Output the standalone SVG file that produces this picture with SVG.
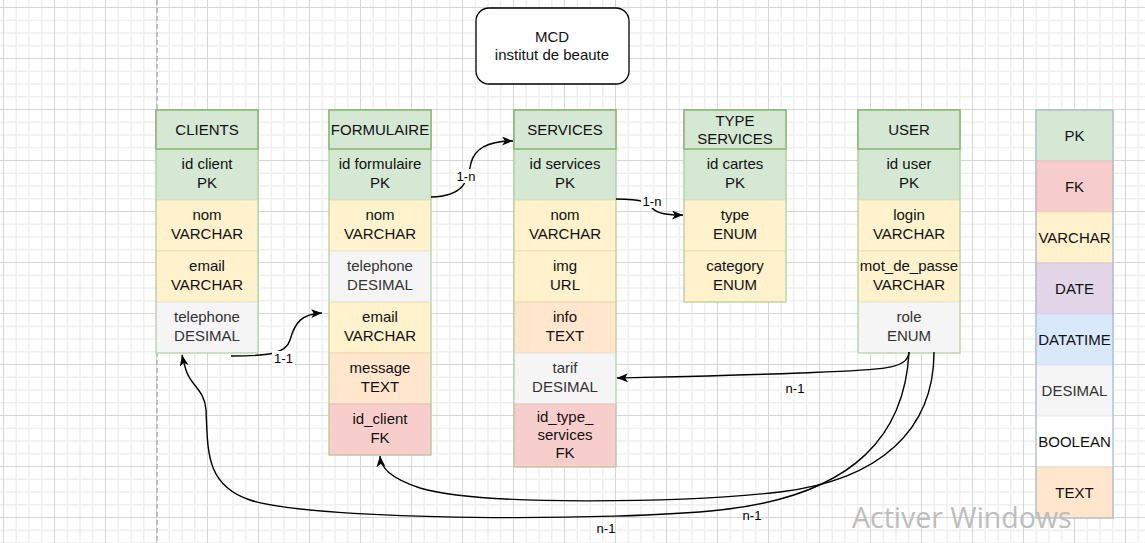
<svg xmlns="http://www.w3.org/2000/svg" width="1145" height="543" viewBox="0 0 1145 543">
<defs>
<pattern id="grid" patternUnits="userSpaceOnUse" x="3" y="7" width="51" height="51">
<path d="M13.25,0V51M26,0V51M38.75,0V51M0,13.25H51M0,26H51M0,38.75H51" stroke="#efefef" stroke-width="1.5" fill="none"/>
<path d="M0.5,0V51M0,0.5H51" stroke="#d6d6d6" stroke-width="1" fill="none"/>
</pattern>
<marker id="arr" markerUnits="userSpaceOnUse" markerWidth="12" markerHeight="10" refX="11" refY="4.5" orient="auto">
<path d="M0,0 L11,4.5 L0,9 L3,4.5 Z" fill="#000"/>
</marker>
</defs>
<style>
text{font-family:"Liberation Sans",Arial,sans-serif;font-size:15px;fill:#111;text-anchor:middle}
.lbl{font-size:13px;fill:#000}
text.g{fill:#333}
.hd{fill:#d5e8d4;stroke:#82b366;stroke-width:1.4}
.pk{fill:#d5e8d4;stroke:#c3ddb6;stroke-width:1}
.vc{fill:#fff2cc;stroke:#ede0b2;stroke-width:1}
.ds{fill:#f5f5f5;stroke:#e6e6e6;stroke-width:1}
.tx{fill:#ffe6cc;stroke:#f0d6ba;stroke-width:1}
.fk{fill:#f8cecc;stroke:#ecbcb9;stroke-width:1}
.pu{fill:#e1d5e7;stroke:#d3c5da;stroke-width:1}
.bl{fill:#dae8fc;stroke:#c9daf2;stroke-width:1}
.wh{fill:#ffffff;stroke:#eeeeee;stroke-width:1}
.out{fill:none;stroke:#a9cf96;stroke-width:1}
.edge{fill:none;stroke:#000;stroke-width:1.4;marker-end:url(#arr)}
.lb{fill:#fff}
</style>
<rect width="1145" height="543" fill="#fff"/>
<rect width="1145" height="543" fill="url(#grid)"/>
<line x1="157" y1="0" x2="157" y2="543" stroke="#b5b5b5" stroke-width="1.5" stroke-dasharray="5 3"/>

<g id="title">
<rect x="476" y="8" width="153" height="76" rx="13" fill="#fff" stroke="#000" stroke-width="1.3"/>
<text x="552" y="42">MCD</text>
<text x="552" y="60">institut de beaute</text>
</g>

<g id="clients">
<rect class="pk" x="156" y="149" width="102" height="51"/>
<rect class="vc" x="156" y="200" width="102" height="51"/>
<rect class="vc" x="156" y="251" width="102" height="51"/>
<rect class="ds" x="156" y="302" width="102" height="51"/>
<rect class="out" x="156" y="110" width="102" height="243"/>
<rect class="hd" x="156" y="110" width="102" height="39"/>
<text x="207" y="135">CLIENTS</text>
<text x="207" y="168.5">id client</text><text x="207" y="187.5">PK</text>
<text x="207" y="219.5">nom</text><text x="207" y="238.5">VARCHAR</text>
<text x="207" y="270.5">email</text><text x="207" y="289.5">VARCHAR</text>
<text class="g" x="207" y="321.5">telephone</text><text class="g" x="207" y="340.5">DESIMAL</text>
</g>

<g id="formulaire">
<rect class="pk" x="329" y="149" width="102" height="51"/>
<rect class="vc" x="329" y="200" width="102" height="51"/>
<rect class="ds" x="329" y="251" width="102" height="51"/>
<rect class="vc" x="329" y="302" width="102" height="51"/>
<rect class="tx" x="329" y="353" width="102" height="51"/>
<rect class="fk" x="329" y="404" width="102" height="51"/>
<rect class="out" x="329" y="110" width="102" height="345"/>
<rect class="hd" x="329" y="110" width="102" height="39"/>
<text x="380" y="135">FORMULAIRE</text>
<text x="380" y="168.5">id formulaire</text><text x="380" y="187.5">PK</text>
<text x="380" y="219.5">nom</text><text x="380" y="238.5">VARCHAR</text>
<text class="g" x="380" y="270.5">telephone</text><text class="g" x="380" y="289.5">DESIMAL</text>
<text x="380" y="321.5">email</text><text x="380" y="340.5">VARCHAR</text>
<text x="380" y="372.5">message</text><text x="380" y="391.5">TEXT</text>
<text x="380" y="423.5">id_client</text><text x="380" y="442.5">FK</text>
</g>

<g id="services">
<rect class="pk" x="514" y="149" width="102" height="51"/>
<rect class="vc" x="514" y="200" width="102" height="51"/>
<rect class="vc" x="514" y="251" width="102" height="51"/>
<rect class="tx" x="514" y="302" width="102" height="51"/>
<rect class="ds" x="514" y="353" width="102" height="51"/>
<rect class="fk" x="514" y="404" width="102" height="63"/>
<rect class="out" x="514" y="110" width="102" height="357"/>
<rect class="hd" x="514" y="110" width="102" height="39"/>
<text x="565" y="135">SERVICES</text>
<text x="565" y="168.5">id services</text><text x="565" y="187.5">PK</text>
<text x="565" y="219.5">nom</text><text x="565" y="238.5">VARCHAR</text>
<text x="565" y="270.5">img</text><text x="565" y="289.5">URL</text>
<text x="565" y="321.5">info</text><text x="565" y="340.5">TEXT</text>
<text class="g" x="565" y="372.5">tarif</text><text class="g" x="565" y="391.5">DESIMAL</text>
<text x="565" y="422">id_type_</text><text x="565" y="440">services</text><text x="565" y="458">FK</text>
</g>

<g id="type-services">
<rect class="pk" x="684" y="149" width="102" height="51"/>
<rect class="vc" x="684" y="200" width="102" height="51"/>
<rect class="vc" x="684" y="251" width="102" height="51"/>
<rect class="out" x="684" y="110" width="102" height="192"/>
<rect class="hd" x="684" y="110" width="102" height="39"/>
<text x="735" y="126">TYPE</text><text x="735" y="144">SERVICES</text>
<text x="735" y="168.5">id cartes</text><text x="735" y="187.5">PK</text>
<text x="735" y="219.5">type</text><text x="735" y="238.5">ENUM</text>
<text x="735" y="270.5">category</text><text x="735" y="289.5">ENUM</text>
</g>

<g id="user">
<rect class="pk" x="858" y="149" width="102" height="51"/>
<rect class="vc" x="858" y="200" width="102" height="51"/>
<rect class="vc" x="858" y="251" width="102" height="51"/>
<rect class="ds" x="858" y="302" width="102" height="51"/>
<rect class="out" x="858" y="110" width="102" height="243"/>
<rect class="hd" x="858" y="110" width="102" height="39"/>
<text x="909" y="135">USER</text>
<text x="909" y="168.5">id user</text><text x="909" y="187.5">PK</text>
<text x="909" y="219.5">login</text><text x="909" y="238.5">VARCHAR</text>
<text x="909" y="270.5">mot_de_passe</text><text x="909" y="289.5">VARCHAR</text>
<text class="g" x="909" y="321.5">role</text><text class="g" x="909" y="340.5">ENUM</text>
</g>

<g id="legend">
<rect class="pk" x="1036" y="110" width="77" height="51"/>
<rect class="fk" x="1036" y="161" width="77" height="51"/>
<rect class="vc" x="1036" y="212" width="77" height="51"/>
<rect class="pu" x="1036" y="263" width="77" height="51"/>
<rect class="bl" x="1036" y="314" width="77" height="51"/>
<rect class="ds" x="1036" y="365" width="77" height="51"/>
<rect class="wh" x="1036" y="416" width="77" height="51"/>
<rect class="tx" x="1036" y="467" width="77" height="51"/>
<rect x="1036" y="110" width="77" height="408" fill="none" stroke="#a6b9d9" stroke-width="1.2"/>
<text x="1074.5" y="140.5">PK</text>
<text x="1074.5" y="191.5">FK</text>
<text x="1074.5" y="242.5">VARCHAR</text>
<text x="1074.5" y="293.5">DATE</text>
<text x="1074.5" y="344.5">DATATIME</text>
<text class="g" x="1074.5" y="395.5">DESIMAL</text>
<text x="1074.5" y="446.5">BOOLEAN</text>
<text x="1074.5" y="497.5">TEXT</text>
</g>

<g id="connectors">
<path class="edge" d="M431,197 C468,196 468,176 471,163 C475,147 490,141 513,141"/>
<path class="edge" d="M616,199 C645,199 648,203 652,208 C658,214 668,215 683,215"/>
<path class="edge" d="M231,356 C268,356 286,354 290,340 C295,322 302,314 322,313"/>
<path class="edge" d="M909,352 C908,370 880,370 800,373 C720,376 660,377 617,378"/>
<path class="edge" d="M934,352 C934,430 880,480 780,492 C680,503 480,506 420,488 C390,478 381,468 380,456"/>
<path class="edge" d="M909,352 C905,430 860,495 720,510 C620,521 320,522 250,500 C205,485 208,450 206,410 C205,390 190,385 186,370 C184,364 183,360 182,355"/>
<rect class="lb" x="455" y="169" width="22" height="14"/>
<text class="lbl" x="466" y="181">1-n</text>
<rect class="lb" x="641" y="194" width="22" height="14"/>
<text class="lbl" x="652" y="206">1-n</text>
<rect class="lb" x="272" y="351" width="23" height="14"/>
<text class="lbl" x="283.5" y="363">1-1</text>
<text class="lbl" x="795" y="393">n-1</text>
<text class="lbl" x="752" y="520">n-1</text>
<text class="lbl" x="606" y="533">n-1</text>
</g>

<text x="852" y="528" style="font-family:'Open Sans','Noto Sans',sans-serif;font-size:28.5px;fill:#bdbdbd;text-anchor:start">Activer Windows</text>
</svg>
